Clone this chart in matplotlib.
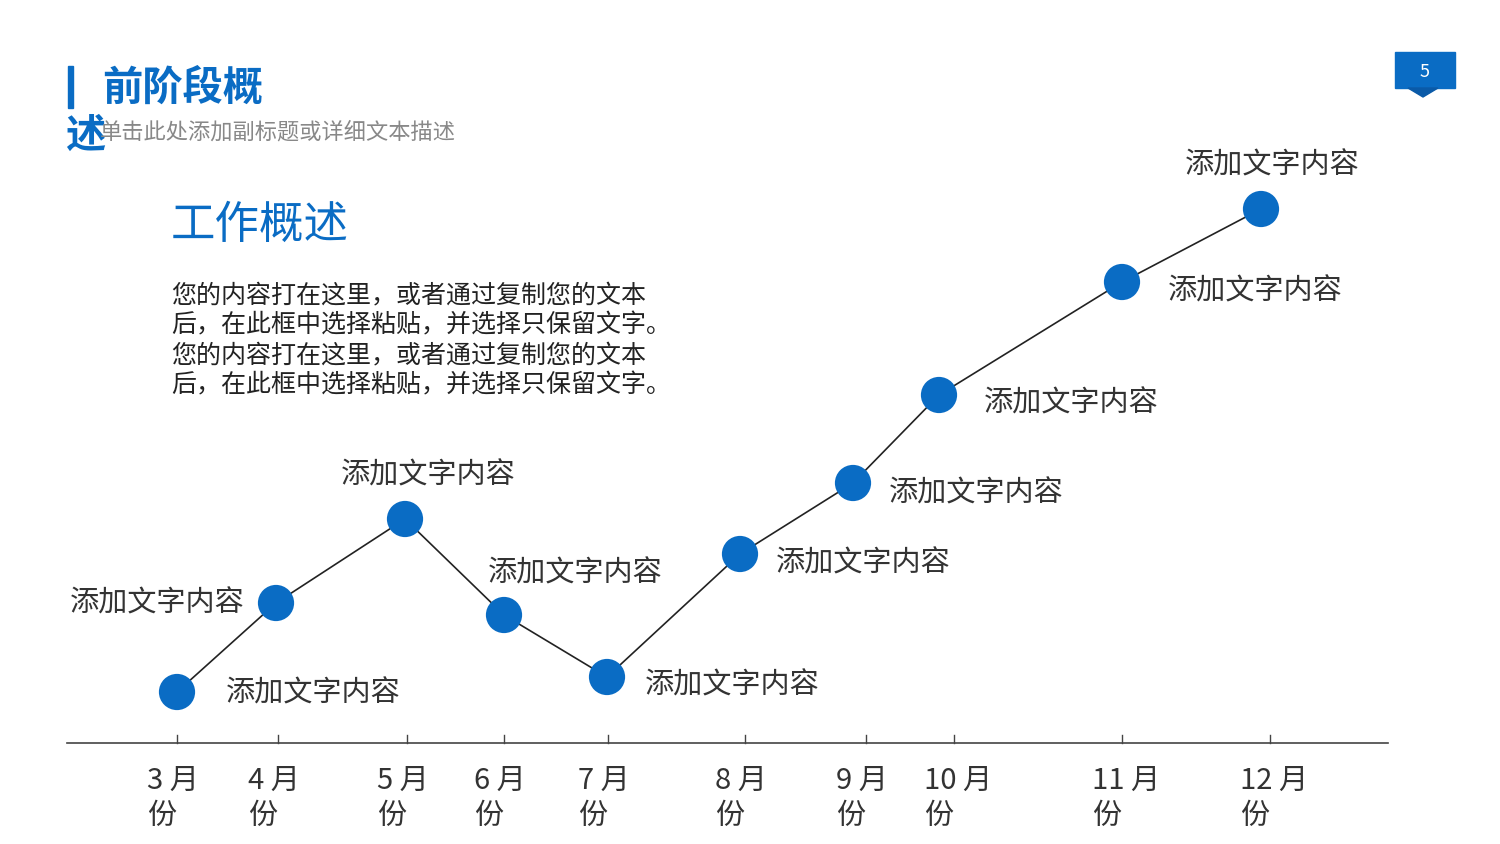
import matplotlib
matplotlib.use("Agg")
import matplotlib.pyplot as plt
from matplotlib.patches import Polygon, Rectangle

plt.rcParams['font.family'] = ['Noto Sans CJK SC', 'DejaVu Sans']

months = ["3 月\n份", "4 月\n份", "5 月\n份", "6 月\n份", "7 月\n份", "8 月\n份", "9 月\n份", "10 月\n份", "11 月\n份", "12 月\n份"]
tick_x = [177, 278, 407, 504, 608, 745, 866, 954, 1122, 1270]
point_x = [177, 276, 405, 504, 607, 740, 853, 939, 1122, 1261]
values = [152, 241, 325, 229, 167, 290, 361, 449, 562, 635]
labels = ["添加文字内容"] * 10
label_pos = [(226, 691), (70, 601), (341, 473), (488, 571), (645, 682),
             (776, 560), (889, 491), (984, 400), (1168, 288), (1185, 163)]

W, H = 1500, 844
blue = "#0a6cc4"
fig = plt.figure(figsize=(15, 8.44), dpi=100)
ax = fig.add_axes([0, 0, 1, 1])
ax.set_xlim(0, W)
ax.set_ylim(H, 0)
ax.axis("off")

py = [H - v for v in values]
ax.plot(point_x, py, color="#222222", lw=1.2, zorder=2)
ax.scatter(point_x, py, s=680, color=blue, zorder=3, edgecolors="none")
for t, (x, y) in zip(labels, label_pos):
    ax.text(x, y + 3, t, fontsize=21, color="#333333", va="center", ha="left")

ax.plot([67, 1388], [743, 743], color="#444444", lw=1.2)
for x, m in zip(tick_x, months):
    ax.plot([x, x], [735, 743], color="#444444", lw=1)
    lines = m.split("\n")
    ax.text(x - 30, 781, lines[0], fontsize=21, color="#333333", va="center", ha="left")
    ax.text(x - 30, 816, lines[1], fontsize=21, color="#333333", va="center", ha="left")

# header
ax.add_patch(Rectangle((68, 66), 5, 42, color=blue))
ax.text(102, 88, "前阶段概", fontsize=29, fontweight="bold", color=blue, va="center")
ax.text(65, 136, "述", fontsize=29, fontweight="bold", color=blue, va="center")
ax.text(100, 132, "单击此处添加副标题或详细文本描述", fontsize=16, color="#888888", va="center")

# page badge
ax.add_patch(Rectangle((1395, 52), 60, 36, color=blue))
ax.add_patch(Polygon([[1408, 88], [1438, 88], [1423, 97]], color="#0a5aa8"))
ax.text(1425, 72, "5", fontsize=13, color="white", ha="center", va="center")

ax.text(171, 225, "工作概述", fontsize=32, color=blue, va="center")
body = ["您的内容打在这里，或者通过复制您的文本", "后，在此框中选择粘贴，并选择只保留文字。",
        "您的内容打在这里，或者通过复制您的文本", "后，在此框中选择粘贴，并选择只保留文字。"]
for i, b in enumerate(body):
    ax.text(171, 295 + 30 * i, b, fontsize=18, color="#222222", va="center")

fig.savefig("out.png", dpi=100)
